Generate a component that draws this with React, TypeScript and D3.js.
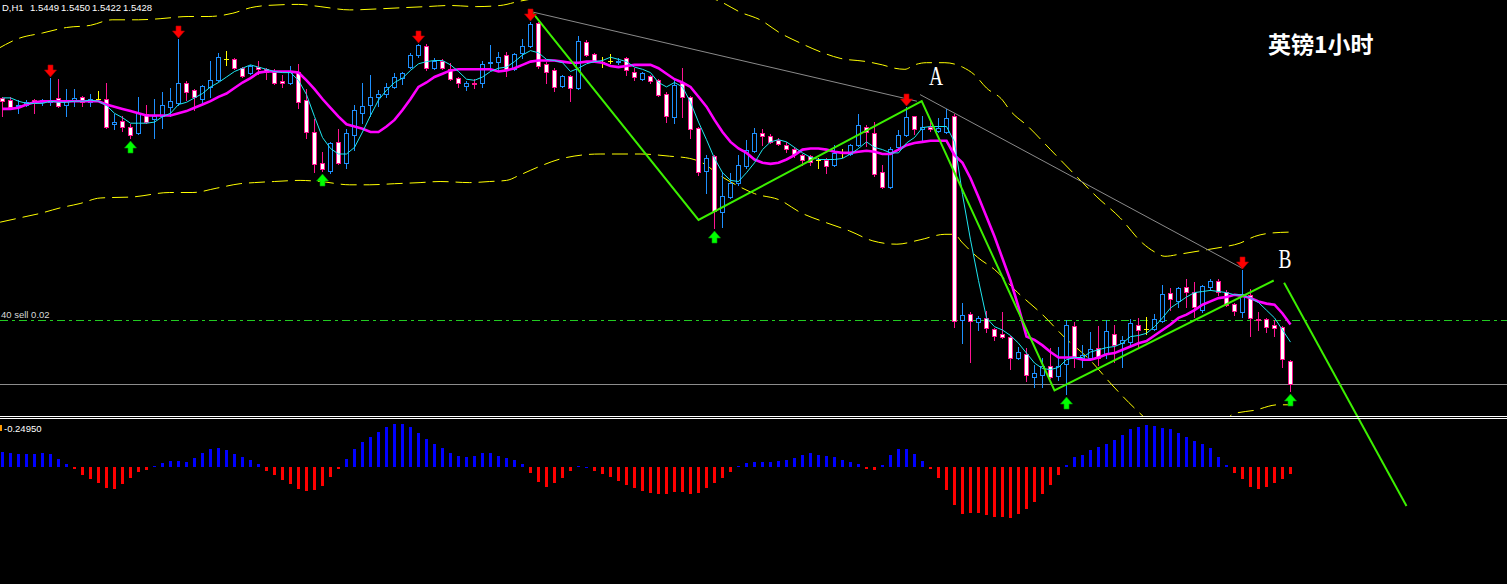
import React from 'react';
import * as d3 from 'd3';

const W = 1507;
const H = 584;

// ---------- GBPUSD H1 candles (price) ----------
const opens = [
1.5688,1.5686,1.5681,1.5682,1.5686,1.5684,1.5684,1.5688,1.5682,1.5685,
1.5689,1.5684,1.5687,1.5687,1.5664,1.5667,1.5662,1.5656,1.5673,1.5669,
1.5672,1.5680,1.5683,1.5702,1.5695,1.5687,1.5698,1.5704,1.5723,1.5723,
1.5715,1.5711,1.5716,1.5714,1.5712,1.5703,1.5702,1.5712,1.5686,1.5657,
1.5629,1.5622,1.5648,1.5629,1.5654,1.5674,1.5682,1.5689,1.5692,1.5698,
1.5706,1.5716,1.5727,1.5735,1.5715,1.5722,1.5714,1.5706,1.5699,1.5702,
1.5702,1.5720,1.5721,1.5727,1.5714,1.5729,1.5735,1.5756,1.5719,1.5713,
1.5699,1.5708,1.5697,1.5739,1.5728,1.5721,1.5722,1.5721,1.5724,1.5712,
1.5705,1.5708,1.5704,1.5692,1.5671,1.5702,1.5689,1.5661,1.5622,1.5635,
1.5584,1.5598,1.5611,1.5626,1.5640,1.5656,1.5653,1.5650,1.5645,1.5642,
1.5636,1.5635,1.5632,1.5632,1.5627,1.5639,1.5637,1.5645,1.5662,1.5656,
1.5621,1.5607,1.5643,1.5654,1.5672,1.5660,1.5662,1.5658,1.5657,1.5672,
1.5486,1.5492,1.5484,1.5488,1.5478,1.5473,1.5471,1.5452,1.5455,1.5434,
1.5436,1.5444,1.5435,1.5446,1.5481,1.5452,1.5452,1.5461,1.5455,1.5473,
1.5465,1.5466,1.5482,1.5478,1.5478,1.5485,1.5511,1.5503,1.5516,1.5512,
1.5495,1.5516,1.5522,1.5512,1.5501,1.5493,1.5509,1.5487,1.5487,1.5482,
1.5480,1.5449];

const highs = [
1.5689,1.5689,1.5686,1.5686,1.5687,1.5687,1.5706,1.5705,1.5696,1.5696,
1.5690,1.5692,1.5694,1.5702,1.5673,1.5672,1.5664,1.5689,1.5682,1.5687,
1.5693,1.5697,1.5742,1.5703,1.5696,1.5700,1.5722,1.5729,1.5731,1.5724,
1.5716,1.5718,1.5722,1.5715,1.5714,1.5709,1.5717,1.5719,1.5696,1.5669,
1.5639,1.5648,1.5660,1.5660,1.5682,1.5702,1.5709,1.5695,1.5702,1.5711,
1.5712,1.5729,1.5737,1.5737,1.5724,1.5723,1.5720,1.5707,1.5703,1.5705,
1.5722,1.5736,1.5730,1.5730,1.5729,1.5742,1.5757,1.5757,1.5721,1.5715,
1.5709,1.5709,1.5744,1.5741,1.5729,1.5725,1.5728,1.5724,1.5725,1.5715,
1.5712,1.5709,1.5705,1.5693,1.5704,1.5715,1.5690,1.5662,1.5636,1.5636,
1.5621,1.5620,1.5636,1.5650,1.5661,1.5660,1.5655,1.5652,1.5648,1.5643,
1.5637,1.5636,1.5633,1.5633,1.5645,1.5642,1.5646,1.5673,1.5663,1.5666,
1.5627,1.5643,1.5659,1.5680,1.5672,1.5672,1.5666,1.5670,1.5678,1.5673,
1.5502,1.5493,1.5490,1.5494,1.5479,1.5493,1.5472,1.5462,1.5461,1.5445,
1.5452,1.5461,1.5462,1.5486,1.5484,1.5463,1.5475,1.5481,1.5486,1.5482,
1.5472,1.5487,1.5488,1.5489,1.5492,1.5518,1.5515,1.5516,1.5523,1.5521,
1.5518,1.5523,1.5523,1.5513,1.5502,1.5532,1.5514,1.5493,1.5488,1.5486,
1.5481,1.5450];

const lows = [
1.5672,1.5679,1.5674,1.5681,1.5674,1.5682,1.5682,1.5680,1.5672,1.5681,
1.5681,1.5681,1.5685,1.5661,1.5660,1.5658,1.5652,1.5655,1.5665,1.5652,
1.5661,1.5672,1.5682,1.5686,1.5677,1.5684,1.5689,1.5703,1.5718,1.5714,
1.5707,1.5710,1.5710,1.5705,1.5701,1.5698,1.5701,1.5679,1.5652,1.5621,
1.5622,1.5620,1.5628,1.5624,1.5641,1.5665,1.5672,1.5681,1.5689,1.5697,
1.5701,1.5715,1.5725,1.5713,1.5714,1.5714,1.5704,1.5698,1.5695,1.5697,
1.5698,1.5713,1.5713,1.5708,1.5713,1.5724,1.5734,1.5715,1.5702,1.5694,
1.5698,1.5685,1.5696,1.5726,1.5721,1.5716,1.5720,1.5719,1.5709,1.5704,
1.5704,1.5702,1.5690,1.5666,1.5665,1.5671,1.5652,1.5618,1.5602,1.5570,
1.5571,1.5597,1.5609,1.5624,1.5639,1.5645,1.5647,1.5645,1.5639,1.5634,
1.5627,1.5627,1.5624,1.5620,1.5626,1.5634,1.5636,1.5644,1.5644,1.5617,
1.5606,1.5606,1.5642,1.5653,1.5655,1.5650,1.5658,1.5657,1.5656,1.5480,
1.5465,1.5448,1.5477,1.5475,1.5468,1.5470,1.5442,1.5451,1.5431,1.5425,
1.5425,1.5433,1.5432,1.5419,1.5443,1.5443,1.5450,1.5445,1.5452,1.5448,
1.5443,1.5463,1.5461,1.5473,1.5477,1.5484,1.5495,1.5498,1.5498,1.5489,
1.5493,1.5513,1.5509,1.5499,1.5491,1.5489,1.5472,1.5477,1.5475,1.5472,
1.5443,1.5422];

const closes = [
1.5685,1.5680,1.5682,1.5684,1.5683,1.5686,1.5686,1.5681,1.5685,1.5688,
1.5684,1.5687,1.5687,1.5662,1.5666,1.5662,1.5654,1.5674,1.5666,1.5672,
1.5682,1.5685,1.5702,1.5693,1.5689,1.5699,1.5704,1.5725,1.5723,1.5715,
1.5708,1.5717,1.5714,1.5712,1.5702,1.5702,1.5712,1.5684,1.5657,1.5628,
1.5623,1.5647,1.5629,1.5656,1.5677,1.5681,1.5689,1.5692,1.5698,1.5707,
1.5711,1.5727,1.5736,1.5715,1.5722,1.5715,1.5705,1.5702,1.5702,1.5701,
1.5719,1.5721,1.5725,1.5713,1.5728,1.5735,1.5755,1.5717,1.5712,1.5698,
1.5708,1.5697,1.5740,1.5727,1.5722,1.5721,1.5722,1.5722,1.5713,1.5707,
1.5711,1.5703,1.5691,1.5672,1.5700,1.5689,1.5660,1.5621,1.5633,1.5585,
1.5599,1.5611,1.5627,1.5641,1.5656,1.5653,1.5648,1.5646,1.5642,1.5637,
1.5632,1.5630,1.5632,1.5626,1.5638,1.5639,1.5645,1.5663,1.5657,1.5619,
1.5607,1.5642,1.5654,1.5671,1.5660,1.5662,1.5660,1.5661,1.5670,1.5485,
1.5491,1.5485,1.5488,1.5479,1.5472,1.5471,1.5452,1.5457,1.5436,1.5438,
1.5444,1.5434,1.5444,1.5482,1.5452,1.5454,1.5460,1.5452,1.5476,1.5463,
1.5468,1.5483,1.5477,1.5478,1.5487,1.5510,1.5505,1.5515,1.5512,1.5498,
1.5517,1.5522,1.5512,1.5500,1.5494,1.5510,1.5488,1.5486,1.5480,1.5479,
1.5451,1.5428];

// ---------- moving averages ----------
const fastMA = [
1.5688,1.5688,1.5685,1.5683,1.5683,1.5683,1.5685,1.5684,1.5684,1.5685,
1.5685,1.5686,1.5685,1.5681,1.5674,1.5670,1.5665,1.5665,1.5665,1.5666,
1.5671,1.5674,1.5682,1.5684,1.5688,1.5692,1.5698,1.5702,1.5707,1.5712,
1.5715,1.5718,1.5716,1.5714,1.5712,1.5711,1.5711,1.5704,1.5691,1.5671,
1.5652,1.5642,1.5637,1.5637,1.5643,1.5657,1.5672,1.5686,1.5695,1.5702,
1.5706,1.5713,1.5719,1.5721,1.5722,1.5722,1.5718,1.5712,1.5705,1.5704,
1.5707,1.5712,1.5715,1.5716,1.5721,1.5727,1.5731,1.5729,1.5723,1.5722,
1.5720,1.5712,1.5715,1.5719,1.5721,1.5722,1.5725,1.5723,1.5721,1.5716,
1.5714,1.5711,1.5702,1.5698,1.5702,1.5698,1.5684,1.5666,1.5650,1.5633,
1.5620,1.5613,1.5612,1.5620,1.5629,1.5641,1.5648,1.5650,1.5648,1.5643,
1.5638,1.5634,1.5632,1.5632,1.5632,1.5633,1.5637,1.5642,1.5648,1.5643,
1.5641,1.5638,1.5638,1.5647,1.5652,1.5661,1.5662,1.5662,1.5662,1.5648,
1.5600,1.5559,1.5522,1.5488,1.5480,1.5477,1.5472,1.5465,1.5456,1.5447,
1.5442,1.5441,1.5443,1.5450,1.5452,1.5452,1.5457,1.5459,1.5461,1.5462,
1.5465,1.5471,1.5472,1.5474,1.5480,1.5488,1.5497,1.5502,1.5507,1.5511,
1.5512,1.5513,1.5512,1.5511,1.5509,1.5509,1.5506,1.5502,1.5495,1.5488,
1.5477,1.5466];

const slowMA = [
1.5678,1.5678,1.5679,1.5682,1.5684,1.5685,1.5685,1.5685,1.5685,1.5685,
1.5685,1.5685,1.5685,1.5682,1.5680,1.5678,1.5676,1.5674,1.5672,1.5672,
1.5672,1.5672,1.5674,1.5676,1.5679,1.5682,1.5685,1.5689,1.5692,1.5697,
1.5702,1.5706,1.5711,1.5712,1.5712,1.5712,1.5712,1.5711,1.5704,1.5696,
1.5687,1.5679,1.5671,1.5664,1.5662,1.5660,1.5657,1.5657,1.5662,1.5668,
1.5677,1.5687,1.5698,1.5702,1.5707,1.5710,1.5713,1.5714,1.5714,1.5714,
1.5714,1.5714,1.5712,1.5713,1.5715,1.5718,1.5721,1.5722,1.5722,1.5722,
1.5721,1.5720,1.5720,1.5721,1.5721,1.5720,1.5717,1.5716,1.5717,1.5718,
1.5718,1.5718,1.5715,1.5710,1.5705,1.5702,1.5698,1.5689,1.5680,1.5668,
1.5657,1.5648,1.5642,1.5638,1.5632,1.5629,1.5628,1.5629,1.5632,1.5636,
1.5641,1.5642,1.5642,1.5641,1.5639,1.5638,1.5638,1.5639,1.5640,1.5639,
1.5637,1.5637,1.5641,1.5645,1.5647,1.5648,1.5649,1.5649,1.5649,1.5636,
1.5629,1.5615,1.5598,1.5580,1.5562,1.5542,1.5522,1.5498,1.5471,1.5468,
1.5463,1.5457,1.5452,1.5452,1.5452,1.5450,1.5450,1.5452,1.5455,1.5456,
1.5459,1.5462,1.5465,1.5467,1.5472,1.5477,1.5482,1.5488,1.5491,1.5495,
1.5500,1.5503,1.5506,1.5507,1.5509,1.5508,1.5506,1.5503,1.5501,1.5500,
1.5492,1.5482];

// ---------- envelope bands: [bar index, price] ----------
const upperBand: [number, number][] = [
[-0.5,1.5733],[2,1.5742],[5,1.5747],[8,1.5752],[11,1.5754],[13.7,1.5759],[17,1.5759],
[19.7,1.5760],[23.2,1.5762],[25.7,1.5762],[28.8,1.5765],[31,1.5770],[33,1.5772],[37,1.5773],
[39.7,1.5771],[43.4,1.5768],[47.2,1.5769],[50,1.5770],[53,1.5771],[55.9,1.5772],[59.3,1.5771],
[62.2,1.5772],[64.7,1.5776],[70,1.5782],[75,1.5788],[80,1.5790],[85,1.5786],[89.9,1.5775],
[92.2,1.5766],[94.7,1.5759],[97.2,1.5747],[99.7,1.5738],[102.2,1.5730],[104.7,1.5724],
[108,1.5721],[110,1.5718],[111.5,1.5715],[112.8,1.5714],[114,1.5718],[115.5,1.5720],
[117.8,1.5720],[120,1.5716],[121.5,1.5709],[123,1.5697],[125,1.5686],[125.9,1.5677],
[128.2,1.5662],[131,1.5641],[133.8,1.5620],[136.8,1.5598],[139.7,1.5579],[142.5,1.5556],
[144,1.5548],[145.3,1.5544],[147.2,1.5546],[149.7,1.5549],[152.2,1.5552],[154.7,1.5556],
[156.5,1.5562],[158.4,1.5565],[160.9,1.5566]];

const lowerBand: [number, number][] = [
[-0.3,1.5575],[2.2,1.5579],[4.7,1.5583],[7.2,1.5588],[9.7,1.5592],[12.2,1.5597],[16.3,1.5598],
[20.9,1.5602],[23.8,1.5602],[26.8,1.5606],[29.7,1.5610],[31.5,1.5611],[34,1.5612],[37.2,1.5613],
[39.7,1.5612],[43.4,1.5609],[45.9,1.5609],[49,1.5610],[52.2,1.5611],[54.7,1.5612],[58.4,1.5611],
[60.9,1.5612],[63,1.5613],[64.7,1.5618],[66.9,1.5625],[70,1.5633],[74.7,1.5637],[79.7,1.5637],
[83.4,1.5635],[85.9,1.5633],[87.2,1.5630],[90,1.5616],[92.2,1.5607],[94,1.5601],[97.2,1.5595],
[99.7,1.5584],[102.8,1.5575],[105.9,1.5567],[108.8,1.5558],[111.8,1.5555],[114.7,1.5559],
[117.8,1.5564],[119,1.5564],[119.9,1.5557],[121.9,1.5543],[124,1.5532],[126.9,1.5511],
[130,1.5491],[132.8,1.5470],[135.9,1.5450],[138.7,1.5427],[141.5,1.5406],[144.7,1.5386],
[148.4,1.5377],[151.5,1.5386],[154,1.5401],[156.5,1.5404],[159.4,1.5409],[160.9,1.5409]];

// ---------- oscillator histogram ----------
const osc = [
15,14,13,13,13,14,13,8,3,-2,
-8,-12,-16,-21,-22,-17,-11,-5,-3,1,
4,6,6,5,9,14,18,19,17,13,
10,7,3,-4,-8,-13,-17,-22,-24,-23,
-19,-10,-2,8,18,25,30,35,40,43,
43,40,34,28,23,19,14,11,10,11,
14,14,11,9,7,3,-6,-15,-20,-16,
-11,-4,1,0.5,-4,-7,-10,-14,-18,-21,
-24,-26,-27,-27,-25,-25,-27,-26,-21,-16,
-11,-5,1,4,5,5,5,6,7,9,
12,14,12,11,10,7,5,3,-2,-3,
2,12,18,18,13,6,-2,-11,-23,-38,
-47,-46,-46,-48,-50,-50,-51,-47,-42,-35,
-27,-18,-8,2,10,12,17,20,23,27,
32,38,40,42,41,39,38,34,30,26,
23,19,10,2,-6,-12,-20,-22,-20,-16,
-12,-7];

// ---------- signals / drawings ----------
const sellArrows = [6, 22, 52, 66, 113, 155];
const buyArrows = [16, 40, 89, 133, 161];
const zigzag: [number, number][] = [[66.3,1.5765],[87,1.5577],[114.9,1.5685],[131.5,1.5422],[158.9,1.5522]];
const projection: [number, number][] = [[160.2,1.5520],[175.5,1.5317]];
const greyTrend1: [number, number][] = [[66.3,1.5766],[114.3,1.5685]];
const greyTrend2: [number, number][] = [[114.7,1.5691],[155.0,1.5533]];
const sellLevel = 1.5486;
const bidLevel = 1.5428;
const symbolText = 'D,H1';
const quoteTexts = ['1.5449', '1.5450', '1.5422', '1.5428'];
const orderText = '40 sell 0.02';
const oscText = '-0.24950';
const labelA: [number, number] = [116.7, 1.5700];
const labelB: [number, number] = [160.3, 1.5533];

const BULL = '#1e90ff';
const BEAR = '#ff1493';

const x = d3.scaleLinear().domain([0, 1]).range([2.5, 10.5]);
const y = d3.scaleLinear().domain([1.5777, 1.5377]).range([0, 440]);
const oscY = d3.scaleLinear().domain([-60, 60]).range([527, 407]);

export default function App() {
  const n = closes.length;
  const col = (i: number) => Math.floor(x(i));
  const py = (p: number) => Math.round(y(p));

  const candles: React.ReactNode[] = [];
  for (let i = 0; i < n; i++) {
    const c = col(i);
    const o = opens[i], h = highs[i], l = lows[i], cl = closes[i];
    const yH = py(h), yL = py(l), yO = py(o), yC = py(cl);
    if (o === cl) {
      candles.push(
        <g key={i}>
          <rect x={c} y={yH} width={1} height={yL - yH + 1} fill="#ffff00" />
          <rect x={c - 2} y={yO} width={5} height={1} fill="#ffff00" />
        </g>
      );
      continue;
    }
    const bull = cl > o;
    const top = Math.min(yO, yC);
    const bot = Math.max(yO, yC);
    const edge = bull ? BULL : BEAR;
    candles.push(
      <g key={i}>
        <rect x={c} y={yH} width={1} height={yL - yH + 1} fill={edge} />
        <rect x={c - 2} y={top} width={5} height={bot - top + 1} fill={edge} />
        {bot - top >= 2 && (
          <rect x={c - 1} y={top + 1} width={3} height={bot - top - 1} fill={bull ? '#000' : '#fff'} />
        )}
      </g>
    );
  }

  const maLine = d3.line<number>().x((_, i) => x(i)).y((d) => y(d));
  const bandLine = d3.line<[number, number]>().x((d) => x(d[0])).y((d) => y(d[1])).curve(d3.curveMonotoneX);
  const segLine = d3.line<[number, number]>().x((d) => x(d[0])).y((d) => y(d[1]));

  const zero = oscY(0);
  const bars = osc.map((v, i) => {
    const yy = Math.round(oscY(v));
    const top = v >= 0 ? yy : Math.round(zero);
    const hgt = Math.max(1, Math.abs(Math.round(zero) - yy));
    return <rect key={i} x={col(i) - 1} y={top} width={3} height={hgt} fill={v >= 0 ? '#0000ff' : '#ff0000'} />;
  });

  const downArrow = (i: number) => {
    const cx = col(i) + 0.5;
    const tip = py(highs[i]) - 1;
    const t = tip - 12;
    const d = `M${cx - 2.5},${t} L${cx + 2.5},${t} L${cx + 2.5},${t + 5} L${cx + 6},${t + 5} L${cx},${tip} L${cx - 6},${t + 5} L${cx - 2.5},${t + 5} Z`;
    return <path key={'d' + i} d={d} fill="#ff0000" stroke="#b00000" strokeWidth={0.6} />;
  };
  const upArrow = (i: number) => {
    const cx = col(i) + 0.5;
    const t = py(lows[i]) + 3;
    const b = t + 12;
    const d = `M${cx},${t} L${cx + 6},${t + 7} L${cx + 2.5},${t + 7} L${cx + 2.5},${b} L${cx - 2.5},${b} L${cx - 2.5},${t + 7} L${cx - 6},${t + 7} Z`;
    return <path key={'u' + i} d={d} fill="#00ff00" stroke="#00a000" strokeWidth={0.6} />;
  };

  const sellY = Math.round(y(sellLevel)) + 0.5;
  const bidY = Math.round(y(bidLevel)) + 0.5;

  return (
    <svg
      width={W}
      height={H}
      viewBox={`0 0 ${W} ${H}`}
      style={{ position: 'absolute', left: 0, top: 0, display: 'block', background: '#000' }}
    >
      <defs>
        <clipPath id="mainPane">
          <rect x={0} y={0} width={W} height={416} />
        </clipPath>
      </defs>
      <rect x={0} y={0} width={W} height={H} fill="#000" />

      <g clipPath="url(#mainPane)">
        {/* horizontal levels */}
        <line x1={0} x2={W} y1={sellY} y2={sellY} stroke="#22cc22" strokeWidth={1} strokeDasharray="8,4,3,4" />
        <line x1={0} x2={W} y1={bidY} y2={bidY} stroke="#8c8c8c" strokeWidth={1} />

        {/* envelope bands */}
        <path d={bandLine(upperBand) || ''} fill="none" stroke="#ffff00" strokeWidth={1} strokeDasharray="16,7" />
        <path d={bandLine(lowerBand) || ''} fill="none" stroke="#ffff00" strokeWidth={1} strokeDasharray="16,7" />

        {/* grey trendlines */}
        <path d={segLine(greyTrend1) || ''} fill="none" stroke="#8a8a8a" strokeWidth={1} />
        <path d={segLine(greyTrend2) || ''} fill="none" stroke="#8a8a8a" strokeWidth={1} />

        {candles}

        <path d={maLine(slowMA) || ''} fill="none" stroke="#ff00ff" strokeWidth={2.6} />
        <path d={maLine(fastMA) || ''} fill="none" stroke="#1ee6f0" strokeWidth={1} />

        <path d={segLine(zigzag) || ''} fill="none" stroke="#3cf000" strokeWidth={2} />

        {sellArrows.map(downArrow)}
        {buyArrows.map(upArrow)}
      </g>

      {/* projection line crosses into the lower pane */}
      <path d={segLine(projection) || ''} fill="none" stroke="#3cf000" strokeWidth={2} />

      {/* pane separator */}
      <line x1={0} x2={W} y1={416.5} y2={416.5} stroke="#ffffff" strokeWidth={1} />
      <line x1={0} x2={W} y1={418.5} y2={418.5} stroke="#ffffff" strokeWidth={1} />

      {/* histogram */}
      {bars}

      {/* texts */}
      <g fontFamily="Liberation Sans, Arial, sans-serif" fontSize={9.5} fill="#ffffff">
        <text x={2} y={11}>{symbolText}</text>
        {quoteTexts.map((t, k) => (
          <text key={t + k} x={30 + k * 31} y={11}>{t}</text>
        ))}
        <text x={1} y={317.5} fill="#d8d8d8">{orderText}</text>
        <text x={4} y={431.5}>{oscText}</text>
      </g>
      <rect x={0} y={425} width={2} height={6} fill="#ff9900" />

      <g fontFamily="Liberation Serif, Times New Roman, serif" fill="#ffffff" fontSize={27}>
        <text transform={`translate(${x(labelA[0])},${y(labelA[1])}) scale(0.72,1)`} textAnchor="middle">A</text>
        <text transform={`translate(${x(labelB[0])},${y(labelB[1])}) scale(0.72,1)`} textAnchor="middle">B</text>
      </g>
      <text x={1268} y={53} fontFamily="Noto Sans CJK SC, sans-serif" fontWeight="bold" fontSize={23} fill="#ffffff">
        英镑1小时
      </text>
    </svg>
  );
}
